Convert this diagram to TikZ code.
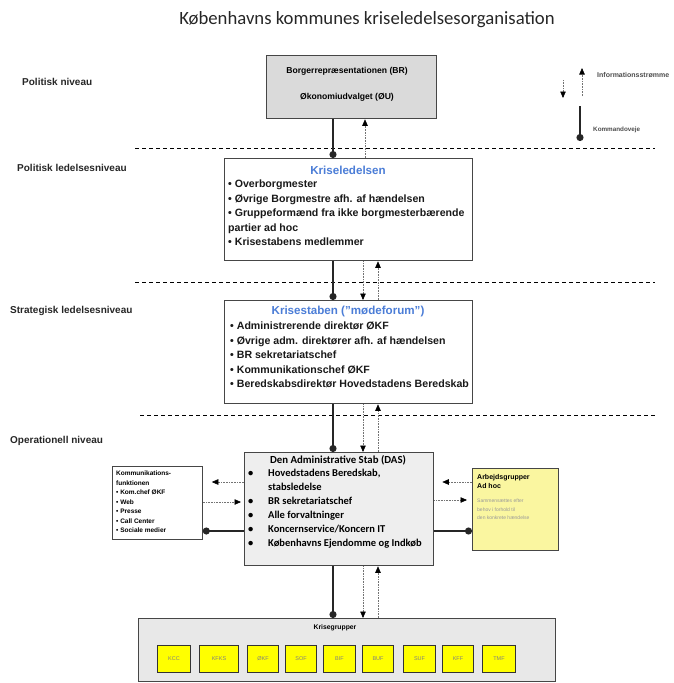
\documentclass[tikz,border=0pt]{standalone}
\usepackage{fontspec}
\setmainfont{Liberation Sans}
\newfontfamily\calfont{Carlito}
\usetikzlibrary{arrows.meta}

\definecolor{bordergray}{RGB}{70,70,70}
\definecolor{topfill}{RGB}{218,218,218}
\definecolor{dasfill}{RGB}{238,238,238}
\definecolor{botfill}{RGB}{232,232,232}
\definecolor{titleblue}{RGB}{75,125,215}
\definecolor{paleyellow}{RGB}{250,246,160}
\definecolor{brightyellow}{RGB}{255,255,0}

\tikzset{
 box/.style={draw=bordergray, line width=1.3pt, anchor=north west, inner sep=0pt},
 cmd/.style={line width=2pt, draw=black!85, -{Circle[length=7pt]}},
 info/.style={densely dotted, line width=0.6pt, draw=black!55, -{Triangle[length=6.5pt,width=5.5pt,color=black]}},
 level/.style={line width=0.8pt, dash pattern=on 4pt off 3pt},
 lvl/.style={anchor=west, inner sep=0pt, font=\bfseries\fontsize{10}{12}\selectfont, text=black!85},
 txt/.style={anchor=north west, align=left, inner sep=0pt},
 mainfont/.style={font=\bfseries\fontsize{10.6}{14.4}\selectfont, text=black!90},
 bluetitle/.style={font=\bfseries\fontsize{11.6}{13}\selectfont, text=titleblue},
 grp/.style={draw=black!80, line width=1pt, fill=brightyellow, minimum height=27pt, anchor=north west, inner sep=0pt, font=\fontsize{5.5}{6}\selectfont, text=black!50},
}

\begin{document}
\begin{tikzpicture}[x=1pt,y=-1pt]
\useasboundingbox (0,0) rectangle (673,683);

% title
\node[font=\calfont\fontsize{18.7}{22}\selectfont, text=black!85] (title) at (367,20) {Københavns kommunes kriseledelsesorganisation};

% level labels
\node[lvl] (l1) at (22,82) {Politisk niveau};
\node[lvl] (l2) at (17,168) {Politisk ledelsesniveau};
\node[lvl] (l3) at (10,311) {Strategisk ledelsesniveau};
\node[lvl] (l4) at (10,441) {Operationell niveau};

% level separators
\draw[level] (135,148) -- (655,148);
\draw[level] (135,282) -- (655,282);
\draw[level] (140,415) -- (655,415);

% legend
\coordinate (lgA) at (582,96);
\coordinate (lgB) at (582,68);
\coordinate (lgC) at (563,80);
\coordinate (lgD) at (563,98);
\coordinate (lgE) at (580,106);
\coordinate (lgF) at (580,141);
\draw[info] (lgA) -- (lgB);
\draw[info] (lgC) -- (lgD);
\draw[cmd] (lgE) -- (lgF);
\node[anchor=west, inner sep=0pt, font=\bfseries\fontsize{7}{8}\selectfont, text=black!70] (lgT1) at (597,75) {Informationsstrømme};
\node[anchor=west, inner sep=0pt, font=\bfseries\fontsize{6.3}{8}\selectfont, text=black!70] (lgT2) at (593,130) {Kommandoveje};

% top box
\node[box, fill=topfill, minimum width=170pt, minimum height=63pt] (br) at (266,55) {};
\node[font=\bfseries\fontsize{8.6}{11}\selectfont] (brt1) at (347,71) {Borgerrepræsentationen (BR)};
\node[font=\bfseries\fontsize{8.6}{11}\selectfont] (brt2) at (347,97) {Økonomiudvalget (ØU)};

% Kriseledelsen
\node[box, fill=white, minimum width=248pt, minimum height=102pt] (kl) at (224,158) {};
\node[bluetitle] (klt) at (348,170) {Kriseledelsen};
\node[txt, mainfont] (klb) at (228,180) {• Overborgmester\\
• Øvrige Borgmestre afh. af hændelsen\\
• Gruppeformænd fra ikke borgmesterbærende\\
partier ad hoc\\
• Krisestabens medlemmer};

% Krisestaben
\node[box, fill=white, minimum width=248pt, minimum height=103pt] (ks) at (224,300) {};
\node[bluetitle] (kst) at (348,311) {Krisestaben (\symbol{34}mødeforum\symbol{34})};
\node[txt, mainfont] (ksb) at (230,322) {• Administrerende direktør ØKF\\
• Øvrige adm. direktører afh. af hændelsen\\
• BR sekretariatschef\\
• Kommunikationschef ØKF\\
• Beredskabsdirektør Hovedstadens Beredskab};

% DAS
\node[box, fill=dasfill, minimum width=189pt, minimum height=113pt] (das) at (244,452) {};
\node[font=\calfont\bfseries\fontsize{10.8}{13}\selectfont] (dast) at (338,460) {Den Administrative Stab (DAS)};
\node[txt, font=\calfont\bfseries\fontsize{10.5}{14}\selectfont] (dasb) at (248,469) {\makebox[20pt][l]{•}Hovedstadens Beredskab,\\
\makebox[20pt][l]{}stabsledelse\\
\makebox[20pt][l]{•}BR sekretariatschef\\
\makebox[20pt][l]{•}Alle forvaltninger\\
\makebox[20pt][l]{•}Koncernservice/Koncern IT\\
\makebox[20pt][l]{•}Københavns Ejendomme og Indkøb};

% Kommunikationsfunktionen
\node[box, line width=0.8pt, fill=white, minimum width=90pt, minimum height=73pt] (kom) at (112,466) {};
\node[txt, font=\bfseries\fontsize{6.5}{9.5}\selectfont] (komt) at (116,471) {Kommunikations-\\
funktionen\\
• Kom.chef ØKF\\
• Web\\
• Presse\\
• Call Center\\
• Sociale medier};

% Arbejdsgrupper
\node[box, line width=1pt, fill=paleyellow, minimum width=86pt, minimum height=82pt] (arb) at (472,468) {};
\node[txt, font=\bfseries\fontsize{7}{9}\selectfont] (arbt) at (477,474) {Arbejdsgrupper\\Ad hoc};
\node[txt, font=\fontsize{5}{8.5}\selectfont, text=black!40] (arbb) at (477,499) {Sammensættes efter\\behov i forhold til\\den konkrete hændelse};

% Krisegrupper
\node[box, fill=botfill, minimum width=417pt, minimum height=63pt] (kg) at (138,618) {};
\node[font=\bfseries\fontsize{6.8}{8}\selectfont] (kgt) at (335,628) {Krisegrupper};
\node[grp, minimum width=33pt] (g1) at (157,645) {KCC};
\node[grp, minimum width=39pt] (g2) at (199,645) {KFKS};
\node[grp, minimum width=31pt] (g3) at (247,645) {ØKF};
\node[grp, minimum width=31pt] (g4) at (285,645) {SOF};
\node[grp, minimum width=32pt] (g5) at (323,645) {BIF};
\node[grp, minimum width=31pt] (g6) at (362,645) {BUF};
\node[grp, minimum width=32pt] (g7) at (403,645) {SUF};
\node[grp, minimum width=31pt] (g8) at (442,645) {KFF};
\node[grp, minimum width=33pt] (g9) at (482,645) {TMF};

% vertical connector columns
\coordinate (cx) at (333,0);
\coordinate (dx) at (363,0);
\coordinate (ux) at (378,0);
\coordinate (tx) at (365,0);

\draw[cmd] (br.south -| cx) -- (kl.north -| cx);
\draw[info] (kl.north -| tx) -- (br.south -| tx);

\draw[cmd] (kl.south -| cx) -- (ks.north -| cx);
\draw[info] (kl.south -| dx) -- (ks.north -| dx);
\draw[info] (ks.north -| ux) -- (kl.south -| ux);

\draw[cmd] (ks.south -| cx) -- (das.north -| cx);
\draw[info] (ks.south -| dx) -- (das.north -| dx);
\draw[info] (das.north -| ux) -- (ks.south -| ux);

\draw[cmd] (das.south -| cx) -- (kg.north -| cx);
\draw[info] (das.south -| dx) -- (kg.north -| dx);
\draw[info] (kg.north -| ux) -- (das.south -| ux);

% horizontal connector rows
\coordinate (yA) at (0,482);
\coordinate (yB) at (0,502);
\coordinate (yC) at (0,531);
\coordinate (yD) at (0,482);
\coordinate (yE) at (0,500);

\draw[info, shorten >=9pt] (das.west |- yA) -- (kom.east |- yA);
\draw[info, shorten >=3pt] (kom.east |- yB) -- (das.west |- yB);
\draw[cmd] (das.west |- yC) -- (kom.east |- yC);

\draw[info, shorten >=8pt] (arb.west |- yD) -- (das.east |- yD);
\draw[info, shorten >=5pt] (das.east |- yE) -- (arb.west |- yE);
\draw[cmd] (das.east |- yC) -- (arb.west |- yC);
\end{tikzpicture}
\end{document}
